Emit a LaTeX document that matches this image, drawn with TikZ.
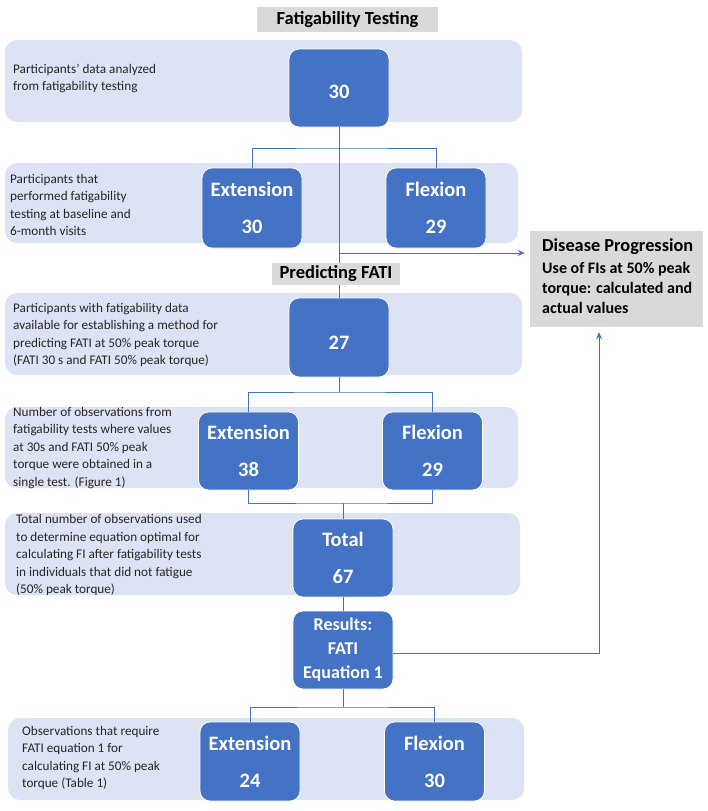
\documentclass[tikz,border=0pt]{standalone}
\usepackage{fontspec}
\setmainfont{Carlito}
\usetikzlibrary{arrows.meta}
\definecolor{boxblue}{HTML}{4472C4}
\definecolor{bandcol}{HTML}{DCE3F5}
\definecolor{greycol}{HTML}{D9D9D9}
\begin{document}
\begin{tikzpicture}[x=1pt,y=-1pt,
 band/.style={fill=bandcol, rounded corners=12pt, draw=none, inner sep=0pt},
 bbox/.style={fill=boxblue, draw=white, line width=0.8pt, rounded corners=10pt, text=white, font=\bfseries\fontsize{20.5}{37}\selectfont, align=center, minimum width=100pt, minimum height=79pt, inner sep=0pt},
 btext/.style={anchor=west, align=left, font=\fontsize{13.2}{17.5}\selectfont, text=black!85, inner sep=0pt},
 title/.style={fill=greycol, font=\bfseries\fontsize{18.5}{20}\selectfont, inner sep=0pt},
 conn/.style={draw=boxblue, line width=1pt},
 arr/.style={conn, -{Stealth[length=7pt,width=6pt]}, shorten >=5pt}]
\useasboundingbox (0,0) rectangle (708,811);
% bands
\node[band, minimum width=517pt, minimum height=82pt] (band1) at (263.5,81) {};
\node[band, minimum width=513pt, minimum height=80pt] (band2) at (261.5,203) {};
\node[band, minimum width=517pt, minimum height=82pt] (band3) at (263.5,334) {};
\node[band, minimum width=513pt, minimum height=81pt] (band4) at (261.5,447.5) {};
\node[band, minimum width=515pt, minimum height=82pt] (band5) at (262.5,554) {};
\node[band, minimum width=516pt, minimum height=82pt] (band6) at (266,759) {};
% band texts
\node[btext] (t1) at (13,78.5) {Participants’ data analyzed\\from fatigability testing};
\node[btext] (t2) at (10,205) {Participants that\\performed fatigability\\testing at baseline and\\6-month visits};
\node[btext] (t3) at (13,335) {Participants with fatigability data\\available for establishing a method for\\predicting FATI at 50\% peak torque\\(FATI 30 s and FATI 50\% peak torque)};
\node[btext] (t4) at (13,448) {Number of observations from\\fatigability tests where values\\at 30s and FATI 50\% peak\\torque were obtained in a\\single test. (Figure 1)};
\node[btext] (t5) at (16,555) {Total number of observations used\\to determine equation optimal for\\calculating FI after fatigability tests\\in individuals that did not fatigue\\(50\% peak torque)};
\node[btext] (t6) at (22,758) {Observations that require\\FATI equation 1 for\\calculating FI at 50\% peak\\torque (Table 1)};
% titles
\node[title, minimum width=181pt, minimum height=25pt] (title1) at (347.5,19.5) {Fatigability Testing\hspace{20pt}};
\node[title, minimum width=128pt, minimum height=22pt] (pred) at (336,274) {Predicting FATI};
\node[fill=greycol, minimum width=173pt, minimum height=96pt, inner sep=0pt] (dis) at (616.5,279) {};
\node[anchor=west, inner sep=0pt, font=\bfseries\fontsize{18.3}{20}\selectfont] (distitle) at (542,247) {Disease Progression};
\node[anchor=west, align=left, inner sep=0pt, font=\bfseries\fontsize{16}{20}\selectfont] (disbody) at (542,288) {Use of FIs at 50\% peak\\torque: calculated and\\actual values};
% boxes
\node[bbox, minimum height=78pt, text height=20.5pt, text depth=0pt] (box30) at (339,88) {30};
\node[bbox, minimum height=80pt] (ext1) at (252,208) {Extension\\30};
\node[bbox, minimum height=80pt] (flex1) at (436,208) {Flexion\\29};
\node[bbox, text height=24pt, text depth=0pt] (box27) at (339,337.5) {27};
\node[bbox, minimum height=78pt] (ext2) at (248.5,451) {Extension\\38};
\node[bbox, minimum height=78pt] (flex2) at (432.5,451) {Flexion\\29};
\node[bbox, minimum height=78pt] (total) at (343,558) {Total\\67};
\node[bbox, minimum height=78pt, font=\bfseries\fontsize{18}{24}\selectfont] (results) at (343,650) {Results:\\FATI\\Equation 1};
\node[bbox] (ext3) at (250,761.5) {Extension\\24};
\node[bbox] (flex3) at (434.5,761.5) {Flexion\\30};
% connectors
\coordinate (j1) at (339,148);
\draw[conn] (ext1.north) |- (j1) -| (flex1.north);
\draw[conn] (box30.south) -- (box30.south |- pred.north);
\coordinate (a1) at (339,253);
\draw[arr] (a1) -- (a1 -| dis.west);
\draw[conn] (box27.north |- pred.south) -- (box27.north);
\coordinate (j2) at (339,392);
\draw[conn] (ext2.north) |- (j2) -| (flex2.north);
\draw[conn] (box27.south) -- (j2);
\coordinate (j3) at (343,503);
\draw[conn] (ext2.south) |- (j3) -| (flex2.south);
\draw[conn] (j3) -- (total.north);
\draw[conn] (total.south) -- (results.north);
\coordinate (j4) at (343,707);
\draw[conn] (results.south) -- (j4);
\draw[conn] (ext3.north) |- (j4) -| (flex3.north);
\coordinate (r1) at (599,653);
\draw[arr] (results.east |- r1) -- (r1) -- (r1 |- dis.south);
\end{tikzpicture}
\end{document}
